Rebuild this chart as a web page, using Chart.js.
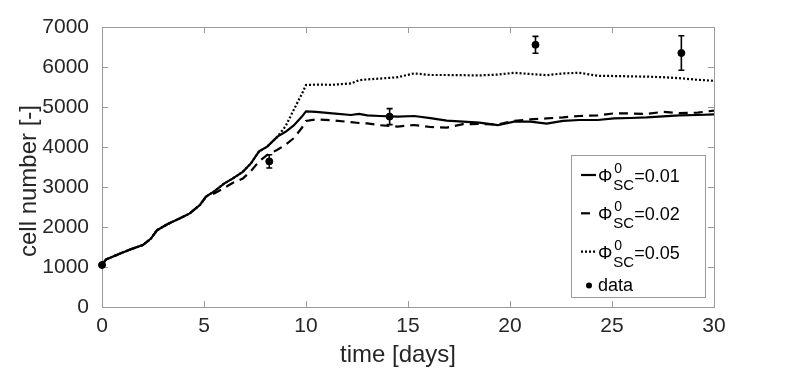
<!DOCTYPE html>
<html>
<head>
<meta charset="utf-8">
<script src="https://cdn.jsdelivr.net/npm/chart.js@4.4.1/dist/chart.umd.min.js"></script>
<style>
  html, body { margin: 0; padding: 0; background: #fff; }
  canvas { display: block; }
</style>
</head>
<body>
<canvas id="chart" width="789" height="368"></canvas>
<script>
// simulation output, time in days
const days = [0, 0.2, 0.9, 1.5, 2.0, 2.4, 2.7, 3.2, 3.8, 4.3, 4.8, 5.1, 5.5, 6.0, 6.4, 6.9, 7.3, 7.7, 8.1, 8.6,
  9.0, 9.4, 9.8, 10.0, 10.5, 11.3, 12.2, 12.6, 13.0, 13.6, 14.5, 15.3, 16.1, 16.9, 17.7, 18.5, 19.4, 20.2, 21.0,
  21.8, 22.6, 23.4, 24.3, 25.1, 25.9, 26.7, 27.5, 28.3, 29.2, 30];

const phi001 = [1050, 1190, 1340, 1460, 1550, 1710, 1920, 2070, 2210, 2340, 2550, 2760, 2890, 3090, 3210, 3380, 3590, 3890, 4010, 4260,
  4380, 4540, 4760, 4890, 4880, 4840, 4800, 4830, 4790, 4775, 4760, 4775, 4720, 4660, 4635, 4610, 4545, 4635, 4635,
  4585, 4655, 4675, 4675, 4715, 4725, 4740, 4765, 4790, 4800, 4815];

const phi002 = [1050, 1190, 1340, 1460, 1550, 1710, 1920, 2070, 2210, 2340, 2550, 2760, 2840, 2980, 3100, 3210, 3400, 3640, 3800, 3930,
  4060, 4220, 4480, 4650, 4690, 4670, 4620, 4600, 4590, 4545, 4510, 4550, 4500, 4485, 4570, 4575, 4560, 4655, 4690,
  4715, 4740, 4775, 4790, 4840, 4840, 4825, 4880, 4845, 4860, 4910];

const phi005 = [1050, 1190, 1340, 1460, 1550, 1710, 1920, 2070, 2210, 2340, 2550, 2760, 2890, 3090, 3210, 3380, 3590, 3890, 4010, 4260,
  4520, 4930, 5330, 5550, 5560, 5555, 5590, 5670, 5690, 5710, 5745, 5840, 5800, 5800, 5795, 5790, 5810, 5855, 5825,
  5795, 5840, 5855, 5780, 5775, 5765, 5760, 5745, 5720, 5680, 5655];

// measurements with error
const dataDays = [0, 8.2, 14.1, 21.25, 28.4];
const dataCells = [1050, 3640, 4760, 6555, 6350];
const dataErr = [0, 165, 200, 210, 430];

const legendValues = ['0.01', '0.02', '0.05'];
const xTitle = 'time [days]';
const yTitle = 'cell number [-]';

const FONT = '"Liberation Sans", Arial, sans-serif';
const AXIS = '#9a9a9a';
const TEXT = '#262626';

const toPts = (xs, ys) => xs.map((x, i) => ({ x: x, y: ys[i] }));

// box + inward ticks on all four sides, MATLAB style
const boxPlugin = {
  id: 'box',
  beforeDatasetsDraw(chart) {
    const { ctx, chartArea: a, scales } = chart;
    ctx.save();
    ctx.strokeStyle = AXIS;
    ctx.lineWidth = 1;
    ctx.strokeRect(a.left + 0.5, a.top + 0.5, a.right - a.left, a.bottom - a.top);
    ctx.beginPath();
    scales.x.ticks.forEach(t => {
      const px = Math.round(scales.x.getPixelForValue(t.value)) + 0.5;
      ctx.moveTo(px, a.bottom); ctx.lineTo(px, a.bottom - 6);
      ctx.moveTo(px, a.top); ctx.lineTo(px, a.top + 6);
    });
    scales.y.ticks.forEach(t => {
      const py = Math.round(scales.y.getPixelForValue(t.value)) + 0.5;
      ctx.moveTo(a.left, py); ctx.lineTo(a.left + 6, py);
      ctx.moveTo(a.right, py); ctx.lineTo(a.right - 6, py);
    });
    ctx.stroke();
    ctx.restore();
  }
};

// axis titles, placed a little off-centre like the original figure
const titlesPlugin = {
  id: 'axisTitles',
  afterDraw(chart) {
    const { ctx, chartArea: a } = chart;
    ctx.save();
    ctx.fillStyle = TEXT;
    ctx.font = '24px ' + FONT;
    ctx.textAlign = 'center';
    ctx.textBaseline = 'alphabetic';
    ctx.fillText(xTitle, (a.left + a.right) / 2 - 10, 361.5);
    ctx.translate(29, (a.top + a.bottom) / 2 + 14);
    ctx.rotate(-Math.PI / 2);
    ctx.textBaseline = 'middle';
    ctx.fillText(yTitle, 0, 0);
    ctx.restore();
  }
};

const errorBarPlugin = {
  id: 'errorBars',
  afterDatasetsDraw(chart) {
    const { ctx, scales } = chart;
    ctx.save();
    ctx.strokeStyle = '#000';
    ctx.lineWidth = 1.6;
    dataDays.forEach((d, i) => {
      if (!dataErr[i]) return;
      const px = scales.x.getPixelForValue(d);
      const y1 = scales.y.getPixelForValue(dataCells[i] - dataErr[i]);
      const y2 = scales.y.getPixelForValue(dataCells[i] + dataErr[i]);
      ctx.beginPath();
      ctx.moveTo(px, y1); ctx.lineTo(px, y2);
      ctx.moveTo(px - 3, y1); ctx.lineTo(px + 3, y1);
      ctx.moveTo(px - 3, y2); ctx.lineTo(px + 3, y2);
      ctx.stroke();
    });
    ctx.restore();
  }
};

// legend with Phi^0_SC labels
const legendPlugin = {
  id: 'phiLegend',
  afterDraw(chart) {
    const { ctx, chartArea: a } = chart;
    const bx = a.right - 143, by = a.bottom - 152, bw = 134, bh = 142;
    ctx.save();
    ctx.fillStyle = '#fff';
    ctx.fillRect(bx, by, bw, bh);
    ctx.strokeStyle = AXIS;
    ctx.lineWidth = 1;
    ctx.strokeRect(bx + 0.5, by + 0.5, bw, bh);

    const dashes = [[], [9, 6], [2, 2]];
    legendValues.forEach((v, i) => {
      const base = by + 27 + i * 38.3;
      ctx.strokeStyle = '#000';
      ctx.lineWidth = 2.2;
      ctx.setLineDash(dashes[i]);
      ctx.beginPath();
      ctx.moveTo(bx + 10, base - 7);
      ctx.lineTo(bx + 25, base - 7);
      ctx.stroke();
      ctx.setLineDash([]);

      ctx.fillStyle = '#000';
      ctx.textBaseline = 'alphabetic';
      ctx.textAlign = 'left';
      let x = bx + 27;
      ctx.font = '18px ' + FONT;
      ctx.fillText('\u03A6', x, base);
      x += ctx.measureText('\u03A6').width + 1;
      ctx.font = '14px ' + FONT;
      ctx.fillText('0', x + 1, base - 9);
      ctx.font = '15px ' + FONT;
      ctx.fillText('SC', x, base + 8);
      x += ctx.measureText('SC').width;
      ctx.font = '18px ' + FONT;
      ctx.fillText('=' + v, x, base);
    });

    const dy = by + 136;
    ctx.beginPath();
    ctx.arc(bx + 18, dy - 5.5, 3, 0, Math.PI * 2);
    ctx.fill();
    ctx.font = '18px ' + FONT;
    ctx.fillText('data', bx + 27, dy);
    ctx.restore();
  }
};

new Chart(document.getElementById('chart').getContext('2d'), {
  type: 'line',
  data: {
    datasets: [
      {
        label: 'phi 0.01',
        data: toPts(days, phi001),
        borderColor: '#000',
        borderWidth: 2.2,
        pointRadius: 0,
        tension: 0
      },
      {
        label: 'phi 0.02',
        data: toPts(days, phi002),
        borderColor: '#000',
        borderWidth: 2.2,
        borderDash: [9, 6],
        pointRadius: 0,
        tension: 0
      },
      {
        label: 'phi 0.05',
        data: toPts(days, phi005),
        borderColor: '#000',
        borderWidth: 2.2,
        borderDash: [2, 2],
        pointRadius: 0,
        tension: 0
      },
      {
        label: 'data',
        data: toPts(dataDays, dataCells),
        showLine: false,
        pointRadius: 3.5,
        pointBackgroundColor: '#000',
        pointBorderColor: '#000',
        clip: false
      }
    ]
  },
  options: {
    responsive: false,
    animation: false,
    devicePixelRatio: 1,
    layout: { padding: { top: 27, right: 75, left: 0, bottom: 0 } },
    plugins: {
      legend: { display: false },
      tooltip: { enabled: false }
    },
    scales: {
      x: {
        type: 'linear',
        min: 0,
        max: 30,
        afterFit: s => { s.height = 61; },
        grid: { display: false, drawTicks: false },
        border: { display: true, color: AXIS },
        ticks: {
          stepSize: 5, padding: 7, color: TEXT, font: { family: FONT, size: 21 },
          callback: v => String(v)
        }
      },
      y: {
        type: 'linear',
        min: 0,
        max: 7000,
        afterFit: s => { s.width = 102; },
        grid: { display: false, drawTicks: false },
        border: { display: true, color: AXIS },
        ticks: {
          stepSize: 1000, padding: 13, color: TEXT, font: { family: FONT, size: 21 },
          callback: v => String(v)
        }
      }
    }
  },
  plugins: [boxPlugin, errorBarPlugin, titlesPlugin, legendPlugin]
});
</script>
</body>
</html>
